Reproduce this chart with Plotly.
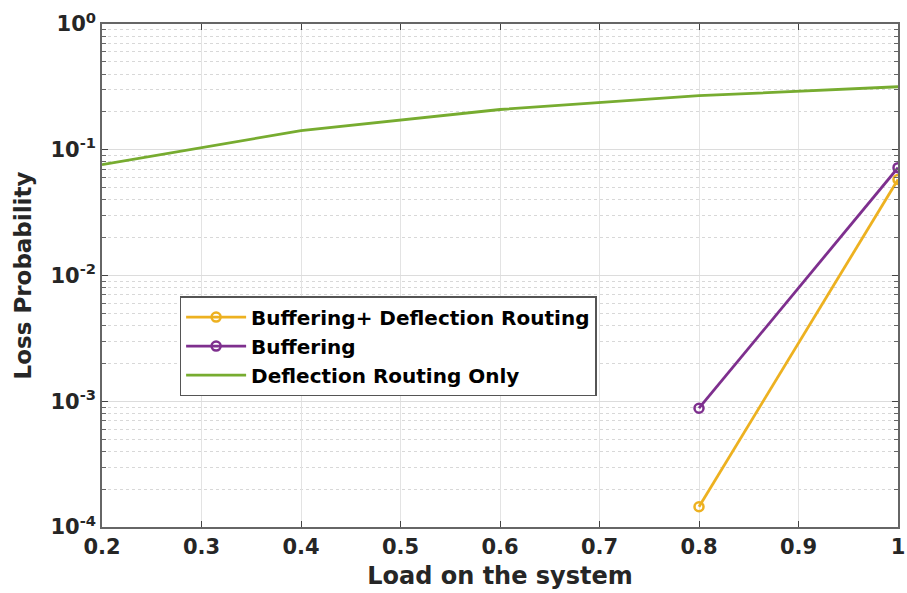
import plotly.graph_objects as go

load_green = [0.2, 0.4, 0.6, 0.8, 1.0]
loss_green = [0.076, 0.142, 0.209, 0.269, 0.317]
load_buf = [0.8, 1.0]
loss_buf_defl = [1.45e-4, 0.058]
loss_buf = [8.8e-4, 0.072]

x_ticks = [0.2, 0.3, 0.4, 0.5, 0.6, 0.7, 0.8, 0.9, 1.0]
x_tick_labels = ["0.2", "0.3", "0.4", "0.5", "0.6", "0.7", "0.8", "0.9", "1"]
y_ticks = [1e-4, 1e-3, 1e-2, 1e-1, 1]
y_tick_labels = ["10<sup>-4</sup>", "10<sup>-3</sup>", "10<sup>-2</sup>", "10<sup>-1</sup>", "10<sup>0</sup>"]

FONT = "DejaVu Sans, Liberation Sans, Arial, sans-serif"

fig = go.Figure()
fig.add_trace(go.Scatter(x=load_buf, y=loss_buf_defl, name="Buffering+ Deflection Routing",
                         mode="lines+markers", line=dict(color="#EDB120", width=2.8),
                         marker=dict(symbol="circle-open", size=9, line=dict(width=2.5))))
fig.add_trace(go.Scatter(x=load_buf, y=loss_buf, name="Buffering",
                         mode="lines+markers", line=dict(color="#7E2F8E", width=2.8),
                         marker=dict(symbol="circle-open", size=9, line=dict(width=2.5))))
fig.add_trace(go.Scatter(x=load_green, y=loss_green, name="Deflection Routing Only",
                         mode="lines", line=dict(color="#77AC30", width=2.8)))

fig.update_layout(
    width=907, height=593,
    margin=dict(l=102, r=9, t=24, b=66),
    paper_bgcolor="white", plot_bgcolor="white",
    font=dict(family=FONT, size=20, color="#262626"),
    legend=dict(x=0.0975, y=0.459, xanchor="left", yanchor="top",
                bgcolor="white", bordercolor="#555555", borderwidth=1.5,
                font=dict(family=FONT, size=20, color="black", weight="bold"),
                itemwidth=60, tracegroupgap=0),
    xaxis=dict(
        range=[0.2, 1.0], tickvals=x_ticks, ticktext=x_tick_labels,
        tickfont=dict(family=FONT, size=21, weight="bold", color="#262626"),
        ticklabeloverflow="allow", automargin=False,
        showgrid=True, gridcolor="#e3e3e3", gridwidth=1,
        ticks="inside", ticklen=6, tickcolor="#444", mirror="ticks",
        showline=True, linecolor="#666666", linewidth=1.5, zeroline=False,
        title=dict(text="Load on the system", standoff=9,
                   font=dict(family=FONT, size=24, weight="bold", color="#262626")),
    ),
    yaxis=dict(
        type="log", range=[-4, 0], tickvals=y_ticks, ticktext=y_tick_labels,
        tickfont=dict(family=FONT, size=21, weight="bold", color="#262626"),
        ticklabeloverflow="allow", automargin=False,
        showgrid=True, gridcolor="#dcdcdc", gridwidth=1,
        ticks="inside", ticklen=6, tickcolor="#444", mirror="ticks",
        showline=True, linecolor="#666666", linewidth=1.5, zeroline=False,
        minor=dict(dtick="D1", ticks="inside", ticklen=4, tickcolor="#666",
                   showgrid=True, gridcolor="#d8d8d8", griddash="dot", gridwidth=1),
        title=dict(text="Loss Probability", standoff=12,
                   font=dict(family=FONT, size=23, weight="bold", color="#262626")),
    ),
)

fig.write_html("out.html")
